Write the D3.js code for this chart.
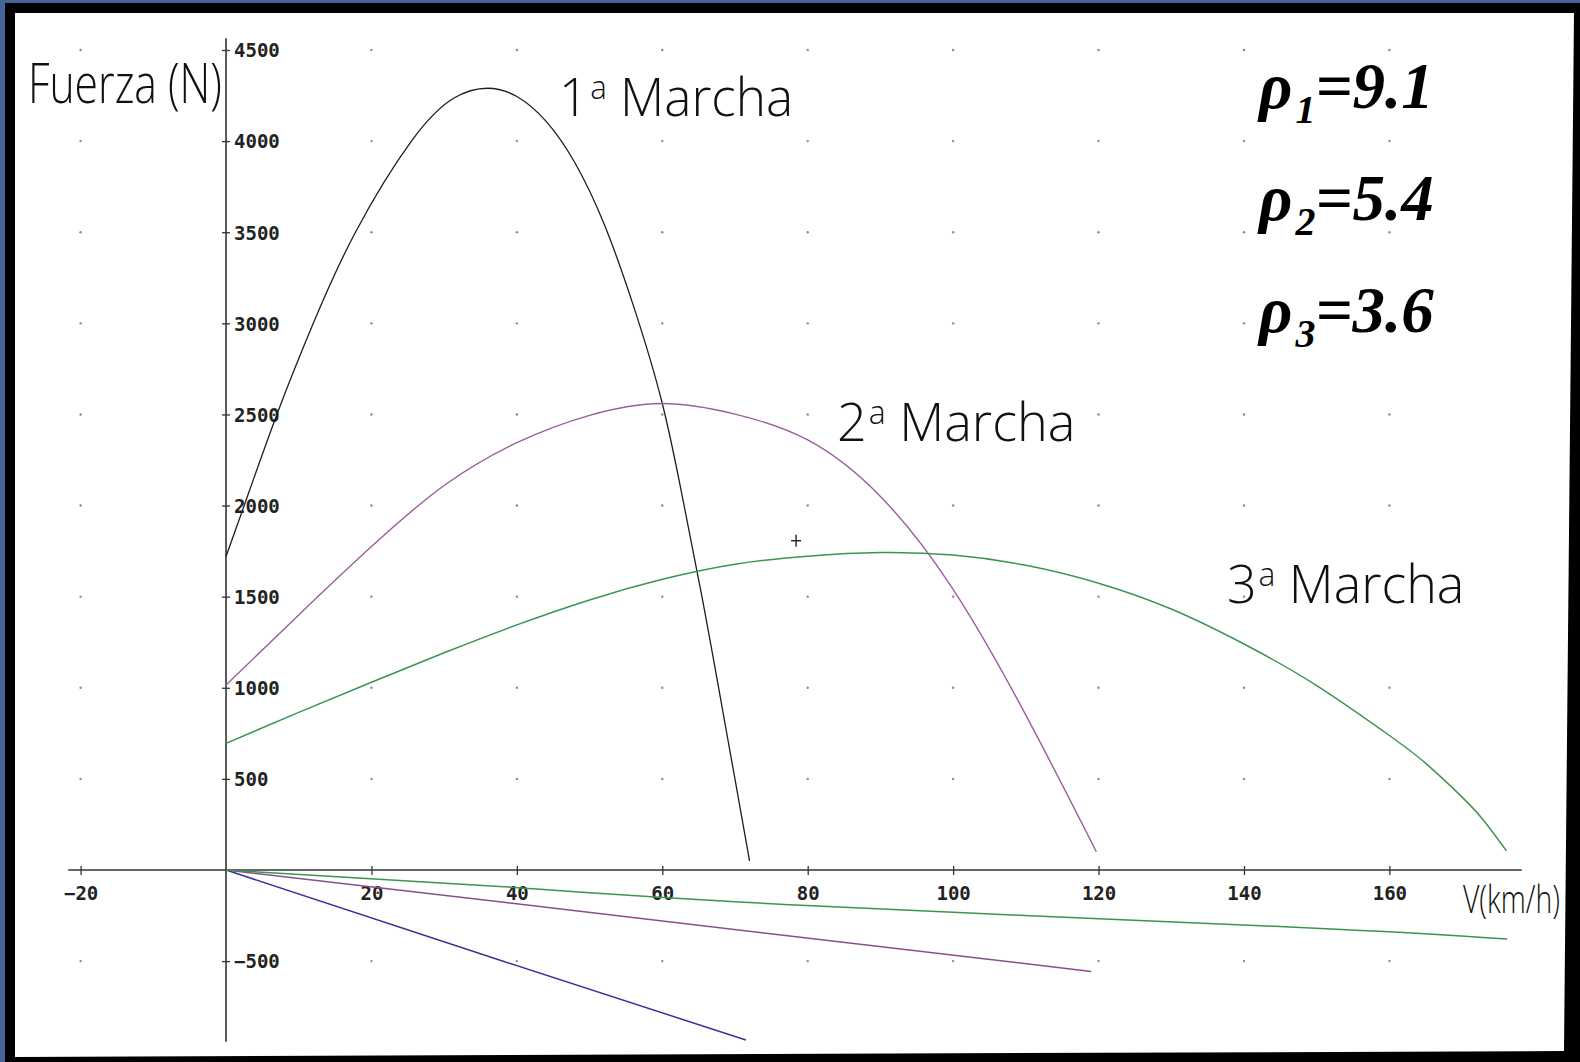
<!DOCTYPE html>
<html><head><meta charset="utf-8">
<script src="https://cdn.jsdelivr.net/npm/d3@7"></script>
<style>html,body{margin:0;padding:0;background:#44659a;} svg{display:block}</style>
</head><body><svg id="chart" width="1580" height="1062"></svg>
<script>
// ---------- data ----------
const xTicks = [-20, 20, 40, 60, 80, 100, 120, 140, 160];
const yTicks = [-500, 500, 1000, 1500, 2000, 2500, 3000, 3500, 4000, 4500];

// tractive force curves (V in km/h, F in N)
const gear1V = [0, 2.5, 7.0, 12.0, 17.8, 25.5, 31.3, 36.0, 40.0, 44.0, 48.0, 52.0, 56.0, 60.0, 63.0, 65.5, 67.7, 69.9, 72.0];
const gear1F = [1720, 2000, 2500, 3000, 3500, 4000, 4235, 4290, 4245, 4110, 3880, 3545, 3100, 2560, 2000, 1490, 1010, 520, 50];

const gear2V = [0, 10, 20, 30, 40, 50, 60, 70, 80, 90, 100, 110, 119.7];
const gear2F = [1015, 1400, 1775, 2110, 2345, 2495, 2560, 2502, 2360, 2050, 1540, 850, 100];

const gear3V = [0, 10, 20, 30, 40, 50, 60, 70, 80, 90, 100, 110, 120, 130, 140, 150, 160, 165, 170, 173, 176.1];
const gear3F = [695, 865, 1030, 1192, 1345, 1482, 1595, 1678, 1722, 1742, 1728, 1672, 1574, 1432, 1240, 1012, 738, 585, 400, 270, 105];

// resistance lines
const res1V = [0, 37.6, 71.5];
const res1F = [0, -494, -933];
const res2V = [0, 37.6, 119.0];
const res2F = [0, -174, -557];
const res3V = [0, 37.6, 79.8, 147.7, 176.2];
const res3F = [0, -90, -195, -315, -379];

const cursorV = [78.4];
const cursorF = [1807];

const gearLabels = ["1", "2", "3"];
const ratioLabels = ["9.1", "5.4", "3.6"];

// ---------- drawing ----------
const svg = d3.select("#chart");
const W = 1580, H = 1062;

const x = d3.scaleLinear().domain([-20, 160]).range([80.6, 1389.4]);
const y = d3.scaleLinear().domain([-500, 4500]).range([961.1, 50]);
const xSpan = [-21.7, 178.2];
const ySpan = [-942, 4565];

// frame
svg.append("rect").attr("width", W).attr("height", H).attr("fill", "#44659a");
svg.append("rect").attr("x", 5).attr("y", 3).attr("width", W - 5).attr("height", H - 3).attr("fill", "#000");
svg.append("path").attr("d", "M15,13 L1574,13 L1564,1051 L15,1057 Z").attr("fill", "#fff");

// grid dots
const dots = [];
xTicks.forEach(v => yTicks.forEach(f => dots.push([v, f])));
svg.append("g").selectAll("circle").data(dots).join("circle")
  .attr("cx", d => x(d[0])).attr("cy", d => y(d[1])).attr("r", 1.2).attr("fill", "#8a8a8a");

// axes
const tickFont = g => g.selectAll("text")
  .attr("font-family", "'DejaVu Sans Mono', monospace").attr("font-weight", "bold")
  .attr("font-size", 19).attr("fill", "#222");

const xAxis = svg.append("g").attr("transform", `translate(0,${y(0)})`)
  .call(d3.axisBottom(x).tickValues(xTicks).tickFormat(d3.format("d")).tickSize(4));
xAxis.select(".domain").remove();
xAxis.selectAll(".tick line").attr("y1", -4).attr("y2", 5).attr("stroke", "#333").attr("stroke-width", 1.3);
xAxis.selectAll(".tick text").attr("y", 17).attr("dy", "0.71em");
xAxis.call(tickFont);
svg.append("line").attr("x1", x(xSpan[0])).attr("x2", x(xSpan[1]))
  .attr("y1", y(0)).attr("y2", y(0)).attr("stroke", "#333").attr("stroke-width", 1.6);

const yAxis = svg.append("g").attr("transform", `translate(${x(0)},0)`)
  .call(d3.axisRight(y).tickValues(yTicks).tickFormat(d3.format("d")).tickSize(4));
yAxis.select(".domain").remove();
yAxis.selectAll(".tick line").attr("x1", -4).attr("x2", 4).attr("stroke", "#333").attr("stroke-width", 1.3);
yAxis.selectAll(".tick text").attr("x", 8).attr("dy", "0.36em");
yAxis.call(tickFont);
svg.append("line").attr("x1", x(0)).attr("x2", x(0))
  .attr("y1", y(ySpan[1])).attr("y2", y(ySpan[0])).attr("stroke", "#333").attr("stroke-width", 1.6);

// curves
const line = d3.line().x(d => x(d[0])).y(d => y(d[1])).curve(d3.curveNatural);
const series = [
  {v: res1V, f: res1F, c: "#33339a", w: 1.5},
  {v: res2V, f: res2F, c: "#8c4c8e", w: 1.5},
  {v: res3V, f: res3F, c: "#3c9452", w: 1.5},
  {v: gear1V, f: gear1F, c: "#1e1e1e", w: 1.3},
  {v: gear2V, f: gear2F, c: "#9a5e9e", w: 1.4},
  {v: gear3V, f: gear3F, c: "#3c9452", w: 1.5}
];
svg.append("g").selectAll("path").data(series).join("path")
  .attr("d", s => line(s.v.map((v, i) => [v, s.f[i]])))
  .attr("fill", "none").attr("stroke", s => s.c).attr("stroke-width", s => s.w);

// cursor cross
const cg = svg.append("g");
cursorV.forEach((v, i) => {
  const cx = x(v), cy = y(cursorF[i]);
  cg.append("line").attr("x1", cx - 5).attr("x2", cx + 5).attr("y1", cy).attr("y2", cy).attr("stroke", "#222").attr("stroke-width", 1.4);
  cg.append("line").attr("x1", cx).attr("x2", cx).attr("y1", cy - 6).attr("y2", cy + 6).attr("stroke", "#222").attr("stroke-width", 1.4);
});

// text labels: fit each to its width by a horizontal scale
const sansFam = "'Open Sans', 'Noto Sans', sans-serif";
function fit(t, px, py, width) {
  const w = t.node().getComputedTextLength();
  t.attr("transform", `translate(${px},${py}) scale(${width / w},1)`);
}

const fz = svg.append("text").attr("font-family", sansFam).attr("font-weight", 300)
  .attr("font-size", 55).attr("fill", "#111").text("Fuerza (N)");
fit(fz, 28, 103, 194);

const vl = svg.append("text").attr("font-family", sansFam).attr("font-weight", 300)
  .attr("font-size", 39).attr("fill", "#111").text("V(km/h)");
fit(vl, 1463, 913, 97);

const gearPos = [[559, 116, 219], [837, 441, 223], [1227, 603, 222]];
gearLabels.forEach((g, i) => {
  const t = svg.append("text").attr("font-family", sansFam).attr("font-weight", 300)
    .attr("font-size", 54).attr("fill", "#111");
  t.append("tspan").text(g);
  t.append("tspan").attr("font-size", 33).attr("dy", -17).attr("dx", 2).text("a");
  t.append("tspan").attr("dy", 17).attr("dx", 14).text("Marcha");
  fit(t, gearPos[i][0], gearPos[i][1], gearPos[i][2]);
});

const rhoBase = [108, 220, 332];
ratioLabels.forEach((r, i) => {
  const t = svg.append("text").attr("x", 1259).attr("y", rhoBase[i])
    .attr("font-family", "'Liberation Serif', 'Times New Roman', serif").attr("font-weight", "bold")
    .attr("font-style", "italic").attr("font-size", 65).attr("fill", "#000");
  t.append("tspan").text("ρ");
  t.append("tspan").attr("font-size", 40).attr("dy", 15).attr("dx", 3).text(String(i + 1));
  t.append("tspan").attr("dy", -15).attr("dx", 0).text("=" + r);
});
</script></body></html>
